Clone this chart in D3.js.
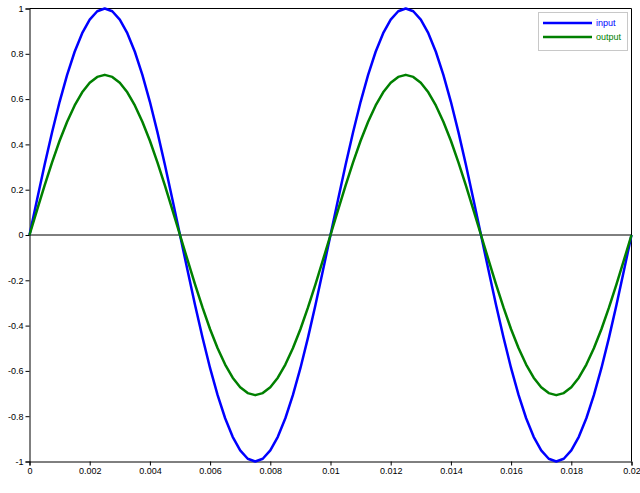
<!DOCTYPE html>
<html><head><meta charset="utf-8">
<script src="https://cdn.jsdelivr.net/npm/d3@7"></script>
<style>html,body{margin:0;padding:0;background:#fff;}svg{display:block;font-family:"Liberation Sans",Arial,sans-serif;}</style>
</head><body>
<svg id="c" width="640" height="493"></svg>
<script>
const time = [0,0.00025,0.0005,0.00075,0.001,0.00125,0.0015,0.00175,0.002,0.00225,0.0025,0.00275,0.003,0.00325,0.0035,0.00375,0.004,0.00425,0.0045,0.00475,
0.005,0.00525,0.0055,0.00575,0.006,0.00625,0.0065,0.00675,0.007,0.00725,0.0075,0.00775,0.008,0.00825,0.0085,0.00875,0.009,0.00925,0.0095,0.00975,
0.01,0.01025,0.0105,0.01075,0.011,0.01125,0.0115,0.01175,0.012,0.01225,0.0125,0.01275,0.013,0.01325,0.0135,0.01375,0.014,0.01425,0.0145,0.01475,
0.015,0.01525,0.0155,0.01575,0.016,0.01625,0.0165,0.01675,0.017,0.01725,0.0175,0.01775,0.018,0.01825,0.0185,0.01875,0.019,0.01925,0.0195,0.01975,0.02];
const input = [0,0.156,0.309,0.454,0.588,0.707,0.809,0.891,0.951,0.988,1,0.988,0.951,0.891,0.809,0.707,0.588,0.454,0.309,0.156,
0,-0.156,-0.309,-0.454,-0.588,-0.707,-0.809,-0.891,-0.951,-0.988,-1,-0.988,-0.951,-0.891,-0.809,-0.707,-0.588,-0.454,-0.309,-0.156,
0,0.156,0.309,0.454,0.588,0.707,0.809,0.891,0.951,0.988,1,0.988,0.951,0.891,0.809,0.707,0.588,0.454,0.309,0.156,
0,-0.156,-0.309,-0.454,-0.588,-0.707,-0.809,-0.891,-0.951,-0.988,-1,-0.988,-0.951,-0.891,-0.809,-0.707,-0.588,-0.454,-0.309,-0.156,0];
const output = [0,0.110,0.218,0.321,0.416,0.5,0.572,0.630,0.672,0.698,0.707,0.698,0.672,0.630,0.572,0.5,0.416,0.321,0.218,0.110,
0,-0.110,-0.218,-0.321,-0.416,-0.5,-0.572,-0.630,-0.672,-0.698,-0.707,-0.698,-0.672,-0.630,-0.572,-0.5,-0.416,-0.321,-0.218,-0.110,
0,0.110,0.218,0.321,0.416,0.5,0.572,0.630,0.672,0.698,0.707,0.698,0.672,0.630,0.572,0.5,0.416,0.321,0.218,0.110,
0,-0.110,-0.218,-0.321,-0.416,-0.5,-0.572,-0.630,-0.672,-0.698,-0.707,-0.698,-0.672,-0.630,-0.572,-0.5,-0.416,-0.321,-0.218,-0.110,0];
const xTicks = [0,0.002,0.004,0.006,0.008,0.01,0.012,0.014,0.016,0.018,0.02];
const yTicks = [-1,-0.8,-0.6,-0.4,-0.2,0,0.2,0.4,0.6,0.8,1];
const seriesNames = ["input","output"];
const seriesColors = ["#0000ff","#008000"];

const svg = d3.select("#c");
const L=29.5, R=631.5, T=8.5, B=461.5;
const x = d3.scaleLinear().domain([0,0.02]).range([L,R]);
const y = d3.scaleLinear().domain([-1,1]).range([B,T]);

// frame top & right
svg.append("line").attr("x1",L).attr("x2",R).attr("y1",T).attr("y2",T).attr("stroke","#000");
svg.append("line").attr("x1",R).attr("x2",R).attr("y1",T).attr("y2",B).attr("stroke","#000");
// zero line
svg.append("line").attr("x1",L).attr("x2",R).attr("y1",y(0)).attr("y2",y(0)).attr("stroke","#000");

const fmt = d => String(d);
const xa = svg.append("g").attr("transform",`translate(0,${B})`)
  .call(d3.axisBottom(x).tickValues(xTicks).tickFormat(fmt).tickSize(4).tickPadding(2));
const ya = svg.append("g").attr("transform",`translate(${L},0)`)
  .call(d3.axisLeft(y).tickValues(yTicks).tickFormat(fmt).tickSize(4).tickPadding(2));
[xa,ya].forEach(a=>{a.selectAll("text").attr("font-size","9px").attr("fill","#000").attr("font-family","'Liberation Sans',Arial,sans-serif");
  a.selectAll("path,line").attr("stroke","#000");});

const data = [input,output];
const line = d3.line().x((d,i)=>x(time[i])).y(d=>y(d));
data.forEach((s,k)=>{
  svg.append("path").datum(s).attr("d",line).attr("fill","none")
    .attr("stroke",seriesColors[k]).attr("stroke-width",2.5).attr("stroke-linejoin","round");
});

// legend
const lg = svg.append("g");
lg.append("rect").attr("x",538.5).attr("y",12.5).attr("width",89).attr("height",38)
  .attr("fill","#fff").attr("stroke","#c8c8c8");
seriesNames.forEach((n,k)=>{
  const yy = 23 + k*14;
  lg.append("line").attr("x1",543).attr("x2",592).attr("y1",yy).attr("y2",yy)
    .attr("stroke",seriesColors[k]).attr("stroke-width",2.5);
  lg.append("text").attr("x",596).attr("y",yy+3).attr("font-size","9px").attr("fill",seriesColors[k]).text(n);
});
</script>
</body></html>
